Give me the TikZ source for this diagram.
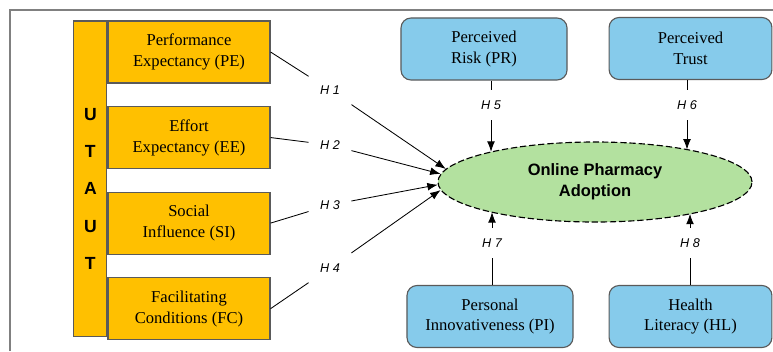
\documentclass[tikz,border=0pt]{standalone}
\usepackage{fontspec}
\setmainfont{Liberation Serif}
\setsansfont{Liberation Sans}
\usepackage{xcolor}
\usepackage{tikz}
\usetikzlibrary{positioning}
\usetikzlibrary{arrows.meta}
\usetikzlibrary{shapes}

\definecolor{utautgold}{HTML}{FFC000}
\definecolor{extblue}{HTML}{86CBEB}
\definecolor{adoptgreen}{HTML}{B3E19F}
\definecolor{boxline}{HTML}{5A5A5A}

\begin{document}
\begin{tikzpicture}[x=0.025cm,y=-0.025cm,line width=0.6pt,
      font=\fontsize{11.8}{14.9}\selectfont,
      utaut style/.style={rectangle,draw=boxline,fill=utautgold,line width=0.8pt,
        minimum width=4.05cm,minimum height=1.55cm,align=center},
      ext style/.style={rectangle,rounded corners=0.25cm,draw=boxline,fill=extblue,
        line width=0.8pt,minimum height=1.55cm,align=center},
      goal style/.style={ellipse,draw=black,fill=adoptgreen,line width=0.8pt,
        dash pattern=on 4.5pt off 2pt,minimum width=7.85cm,minimum height=2cm,
        align=center,font=\sffamily\bfseries\fontsize{11.7}{14.9}\selectfont},
      hyp style/.style={minimum width=1.05cm,minimum height=0.75cm,inner sep=0pt,
        font=\sffamily\itshape\fontsize{9}{10}\selectfont}
      ]
      \useasboundingbox (0,0) rectangle (773,351);
      \draw[gray,line width=1pt] (10,351) -- (10,10) -- (773,10);

      % UTAUT constructs
      \node[utaut style] (pe) at (189,52) {Performance\\Expectancy (PE)};
      \node[utaut style,below=0.56cm of pe] (ee) {Effort\\Expectancy (EE)};
      \node[utaut style,below=0.56cm of ee] (si) {Social\\Influence (SI)};
      \node[utaut style,below=0.56cm of si] (fc) {Facilitating\\Conditions (FC)};
      \node[draw=boxline,fill=utautgold,line width=0.8pt,minimum width=0.825cm,
        minimum height=7.875cm,anchor=north east] (bar) at (pe.north west) {};
      \node[align=center,font=\sffamily\bfseries\fontsize{12.5}{26.6}\selectfont]
        (utaut) at ([yshift=-0.26cm]bar.center) {U\\T\\A\\U\\T};

      % extra constructs
      \node[ext style,minimum width=4.15cm] (pr) at (484,49) {Perceived\\Risk (PR)};
      \node[ext style,minimum width=4.07cm] (pt) at (690.5,48.5) {Perceived\\Trust};
      \node[ext style,minimum width=4.15cm] (pi) at (490,316.5) {Personal\\Innovativeness (PI)};
      \node[ext style,minimum width=4.07cm] (hl) at (690.5,316.5) {Health\\Literacy (HL)};

      \node[goal style] (adopt) at (595,182) {Online Pharmacy\\Adoption};

      % hypotheses
      \node[hyp style] (h1) at (330,90) {H 1};
      \node[hyp style] (h2) at (330,145) {H 2};
      \node[hyp style] (h3) at (330,205) {H 3};
      \node[hyp style] (h4) at (330,268) {H 4};
      \node[hyp style] (h5) at (491,105) {H 5};
      \node[hyp style] (h6) at (687,105) {H 6};
      \node[hyp style] (h7) at (492,243) {H 7};
      \node[hyp style] (h8) at (690,243) {H 8};

      \draw (pe.east) -- (h1);
      \draw (ee.east) -- (h2);
      \draw (si.east) -- (h3);
      \draw (fc.east) -- (h4);
      \draw[-{Latex[scale=1.3]}] (h1) edge [] (adopt.175);
      \draw[-{Latex[scale=1.3]}] (h2) edge [] (adopt.177);
      \draw[-{Latex[scale=1.3]}] (h3) edge [] (adopt.181);
      \draw[-{Latex[scale=1.3]}] (h4) edge [] (adopt.183);

      \draw (pr.south -| h5) -- (h5);
      \draw (pt.south -| h6) -- (h6);
      \draw (pi.north -| h7) -- (h7);
      \draw (hl.north -| h8) -- (h8);
      \draw[-{Latex[scale=1.3]}] (h5) edge [] (h5 |- adopt.164);
      \draw[-{Latex[scale=1.3]}] (h6) edge [] (h6 |- adopt.19);
      \draw[-{Latex[scale=1.3]}] (h7) edge [] (h7 |- adopt.-164);
      \draw[-{Latex[scale=1.3]}] (h8) edge [] (h8 |- adopt.-18.5);

    \end{tikzpicture}
\end{document}
